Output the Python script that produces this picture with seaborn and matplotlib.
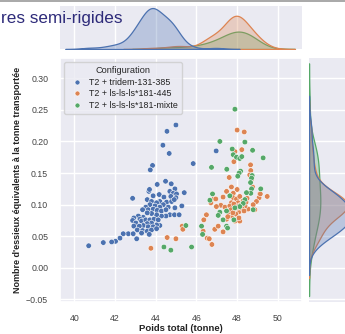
import matplotlib
matplotlib.use("Agg")
import matplotlib.pyplot as plt
import numpy as np
import pandas as pd
import seaborn as sns
from matplotlib.lines import Line2D
from matplotlib.ticker import MultipleLocator

configs = ["T2 + tridem-131-385", "T2 + ls-ls-ls*181-445", "T2 + ls-ls-ls*181-mixte"]
colors = ["#4c72b0", "#dd8452", "#55a868"]

blue_x = [45.00, 44.56, 44.36, 44.67, 45.85, 46.98, 43.85, 43.74,
          44.08, 44.49, 44.77, 43.67, 43.70, 44.95, 44.70,
          42.87, 45.41, 44.87, 45.03, 44.18, 44.75, 45.00, 43.88, 44.41, 43.59, 43.80,
          44.21, 44.05, 44.54, 44.79, 44.92, 44.38, 43.97, 43.72, 43.52, 44.62, 44.21, 45.29, 44.95,
          43.36, 43.64, 43.88, 44.08, 44.29, 44.51, 44.70, 44.93, 45.16, 44.51, 44.29, 44.05, 43.80,
          43.59, 43.39, 43.15, 42.93, 42.87, 43.23,
          43.03, 43.31, 43.52, 43.72, 43.92, 44.13, 44.21, 44.05, 43.80, 43.59, 43.39, 43.20, 42.93,
          43.64, 43.88,
          43.10, 43.36, 43.59, 43.80, 44.05, 43.31, 43.69, 42.66, 42.41, 42.90,
          43.07, 42.25, 42.03, 41.84, 41.43, 40.71]
blue_y = [0.226, 0.216, 0.194, 0.181, 0.165, 0.185, 0.162, 0.155,
          0.132, 0.137, 0.133, 0.121, 0.124, 0.125, 0.121,
          0.110, 0.119, 0.118, 0.117, 0.116, 0.113, 0.111, 0.114, 0.112, 0.108, 0.105,
          0.105, 0.103, 0.104, 0.105, 0.108, 0.100, 0.098, 0.100, 0.096, 0.096, 0.096, 0.098, 0.095,
          0.092, 0.092, 0.093, 0.091, 0.090, 0.092, 0.084, 0.084, 0.084, 0.082, 0.082, 0.084, 0.086,
          0.087, 0.080, 0.082, 0.079, 0.075, 0.077,
          0.071, 0.074, 0.076, 0.076, 0.077, 0.076, 0.067, 0.068, 0.071, 0.070, 0.067, 0.066, 0.066,
          0.065, 0.065,
          0.060, 0.059, 0.058, 0.060, 0.062, 0.055, 0.053, 0.054, 0.054, 0.054,
          0.046, 0.047, 0.042, 0.041, 0.040, 0.035]

orange_x = [48.01, 48.36, 47.90, 48.24, 47.85, 48.67, 48.68, 48.63, 47.62, 48.77, 47.73, 48.01,
            47.49, 47.82, 46.87, 46.96, 47.32, 47.82, 47.98, 48.14, 48.06, 47.73, 49.12, 49.49,
            49.09, 48.96, 47.21, 46.99, 46.72, 47.41, 47.65, 47.90, 48.11, 48.55, 48.88, 46.50,
            46.37, 46.34, 46.91, 47.32, 47.08, 47.49, 47.73, 47.90, 48.14, 45.31, 45.34, 46.54,
            46.64, 46.77, 44.57, 45.00, 43.77,
            48.20, 48.40, 48.00, 48.30, 47.60, 48.50, 48.80, 49.15, 48.72,
            47.95, 48.10, 47.70, 48.25, 47.85, 48.45, 47.55, 48.05, 47.80, 48.35]
orange_y = [0.218, 0.215, 0.184, 0.187, 0.168, 0.163, 0.154, 0.147, 0.143, 0.128, 0.128, 0.124,
            0.121, 0.118, 0.109, 0.109, 0.112, 0.111, 0.109, 0.113, 0.103, 0.103, 0.117, 0.113,
            0.111, 0.105, 0.099, 0.097, 0.103, 0.096, 0.098, 0.092, 0.089, 0.093, 0.092, 0.084,
            0.076, 0.058, 0.061, 0.057, 0.066, 0.077, 0.082, 0.074, 0.074, 0.066, 0.061, 0.047,
            0.046, 0.037, 0.048, 0.046, 0.031,
            0.100, 0.098, 0.095, 0.106, 0.088, 0.110, 0.100, 0.117, 0.140,
            0.085, 0.079, 0.092, 0.094, 0.101, 0.104, 0.081, 0.097, 0.087, 0.090]

green_x = [47.90, 47.16, 48.39, 47.77, 48.77, 47.82, 47.98, 48.14, 48.24, 49.29, 46.75, 47.50,
           48.18, 48.11, 48.04, 48.75, 48.72, 48.67, 48.72, 48.68, 49.17, 46.80, 46.67, 47.65,
           48.47, 48.39, 48.31, 48.14, 47.90, 47.49, 47.16, 47.08,
           48.80, 47.85, 47.49, 47.32, 47.54, 46.26,
           46.31, 45.49, 45.77, 44.41, 44.75]
green_y = [0.251, 0.200, 0.199, 0.188, 0.186, 0.179, 0.175, 0.173, 0.176, 0.174, 0.159, 0.156,
           0.153, 0.150, 0.145, 0.146, 0.142, 0.135, 0.125, 0.118, 0.125, 0.117, 0.107, 0.114,
           0.119, 0.108, 0.102, 0.097, 0.095, 0.090, 0.088, 0.083,
           0.092, 0.076, 0.066, 0.076, 0.063, 0.066,
           0.053, 0.067, 0.033, 0.033, 0.028]

x_ticks_step = 2
y_ticks_step = 0.05
title_text = "res semi-rigides"
x_label = "Poids total (tonne)"
y_label = "Nombre d'essieux équivalents à la tonne transportée"

df = pd.DataFrame({
    "poids": blue_x + orange_x + green_x,
    "essieux": blue_y + orange_y + green_y,
    "Configuration": [configs[0]] * len(blue_x) + [configs[1]] * len(orange_x) + [configs[2]] * len(green_x),
})

sns.set_theme(style="darkgrid")
plt.rcParams['font.family'] = ['Liberation Sans', 'DejaVu Sans']
plt.rcParams['axes.unicode_minus'] = True

W, H = 345, 334
fig = plt.figure(figsize=(W / 100, H / 100), dpi=100)


def rect(l, t, r, b):
    return [l / W, 1 - b / H, (r - l) / W, (b - t) / H]


ax = fig.add_axes(rect(60, 58, 302, 302))
axt = fig.add_axes(rect(60, 6, 302, 49), sharex=ax)
axr = fig.add_axes(rect(309, 58, 353, 302), sharey=ax)

pal = dict(zip(configs, colors))
sns.scatterplot(data=df, x="poids", y="essieux", hue="Configuration", hue_order=configs,
                palette=pal, s=16, linewidth=0.4, edgecolor="white", ax=ax)
sns.kdeplot(data=df, x="poids", hue="Configuration", hue_order=configs, palette=pal,
            fill=True, common_norm=True, alpha=0.3, linewidth=0.9, legend=False, ax=axt)
sns.kdeplot(data=df, y="essieux", hue="Configuration", hue_order=configs, palette=pal,
            fill=True, common_norm=True, alpha=0.3, linewidth=0.9, legend=False, ax=axr)

ax.set_xlim(39.3, 51.2)
ax.set_ylim(-0.054, 0.332)
ax.xaxis.set_major_locator(MultipleLocator(x_ticks_step))
ax.yaxis.set_major_locator(MultipleLocator(y_ticks_step))
ax.tick_params(labelsize=6.3, colors="#444444", pad=2.5)
ax.set_xlabel(x_label, fontsize=6.8, fontweight="bold", color="#222222", labelpad=1)
ax.set_ylabel(y_label, fontsize=6.5, fontweight="bold", color="#222222", labelpad=3)

for a in (axt, axr):
    a.set_xlabel("")
    a.set_ylabel("")
    a.tick_params(labelleft=False, labelbottom=False, left=False, bottom=False)
    for s in a.spines.values():
        s.set_visible(False)
axt.yaxis.grid(False)
axr.xaxis.grid(False)
axt.set_ylim(bottom=0)
axr.set_xlim(left=0)

leg = ax.legend(title="Configuration", loc="upper left", fontsize=6.4, title_fontsize=6.6,
                markerscale=0.9, borderaxespad=0.5, handletextpad=0.4, labelspacing=0.3,
                frameon=True)
for t in leg.get_texts():
    t.set_color("#222222")

fig.text(1 / W, 1 - 23 / H, title_text, ha="left", va="baseline", fontsize=12.3,
         color="#2e2b7a", zorder=10)
fig.add_artist(Line2D([0, 1], [1 - 1 / H, 1 - 1 / H], color="#999999", linewidth=1.2))

fig.savefig("out.png", dpi=100)
